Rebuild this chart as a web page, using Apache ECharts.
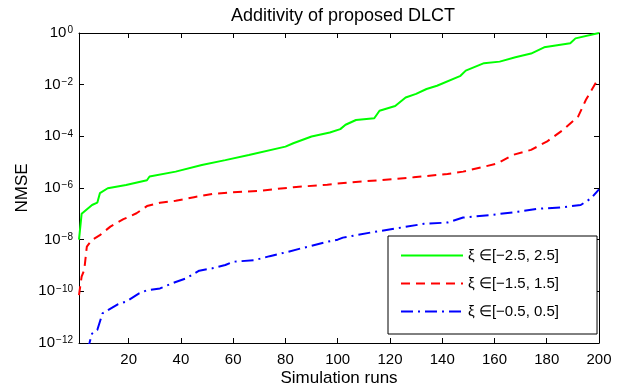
<!DOCTYPE html>
<html>
<head>
<meta charset="utf-8">
<script src="https://cdn.jsdelivr.net/npm/echarts@6/dist/echarts.min.js"></script>
<style>
  html, body { margin: 0; padding: 0; background: #fff; }
  #chart { width: 624px; height: 388px; }
</style>
</head>
<body>
<div id="chart"></div>
<script>
// xi in [-2.5, 2.5]
const runsWide = [1, 2, 6, 8, 9, 12, 19, 27, 28, 38, 48, 57, 66, 80, 83, 90, 97, 101, 103, 107,
  114, 116, 122, 126, 130, 134, 138, 147, 149, 156, 162, 168, 174, 179, 189, 191, 200];
const nmseWide = [1.0e-8, 1.0e-7, 2.2e-7, 2.7e-7, 6.3e-7, 9.8e-7, 1.3e-6, 2.0e-6, 2.8e-6, 4.3e-6,
  7.8e-6, 1.2e-5, 1.9e-5, 4.0e-5, 5.4e-5, 9.8e-5, 1.4e-4, 1.9e-4, 2.8e-4, 4.3e-4,
  5.0e-4, 9.8e-4, 1.5e-3, 3.2e-3, 4.4e-3, 6.8e-3, 9.1e-3, 2.2e-2, 3.5e-2, 6.8e-2,
  7.8e-2, 0.115, 0.16, 0.28, 0.40, 0.62, 1.0];

// xi in [-1.5, 1.5]
const runsMid = [1, 2, 3, 4, 6, 9, 13, 18, 23, 27, 32, 38, 45, 52, 60, 70, 83, 96, 105, 116,
  129, 142, 148, 155, 161, 167, 174, 180, 186, 192, 195, 199, 200];
const nmseMid = [7.1e-11, 3.7e-10, 6.6e-10, 5.4e-9, 9.8e-9, 1.5e-8, 3.2e-8, 6.2e-8, 1.05e-7, 2.0e-7,
  2.7e-7, 3.2e-7, 4.4e-7, 5.9e-7, 6.8e-7, 7.8e-7, 1.07e-6, 1.35e-6, 1.66e-6, 2.0e-6,
  2.6e-6, 3.5e-6, 4.3e-6, 6.3e-6, 8.9e-6, 1.9e-5, 3.0e-5, 6.2e-5, 1.7e-4, 5.8e-4,
  2.6e-3, 1.3e-2, 1.8e-2];

// xi in [-0.5, 0.5]
const runsNarrow = [4, 5, 6, 8, 10, 11, 16, 19, 24, 27, 32, 38, 42, 47, 52, 57, 60, 68, 74, 80,
  86, 96, 100, 102, 114, 123, 133, 142, 148, 158, 169, 176, 186, 193, 197, 200];
const nmseNarrow = [5e-13, 1.0e-12, 2.3e-12, 3.2e-12, 1.4e-11, 1.6e-11, 3.2e-11, 4.0e-11, 8.3e-11, 1.1e-10,
  1.3e-10, 2.3e-10, 3.2e-10, 6.3e-10, 7.8e-10, 1.05e-9, 1.4e-9, 1.6e-9, 2.3e-9, 3.2e-9,
  4.6e-9, 8.3e-9, 1.0e-8, 1.2e-8, 2.0e-8, 2.8e-8, 4.1e-8, 4.6e-8, 7.2e-8, 8.9e-8,
  1.2e-7, 1.55e-7, 1.8e-7, 2.2e-7, 4.0e-7, 8.9e-7];

const seriesNames = ['ξ ∈[−2.5, 2.5]', 'ξ ∈[−1.5, 1.5]', 'ξ ∈[−0.5, 0.5]'];
const xTicks = [20, 40, 60, 80, 100, 120, 140, 160, 180, 200];

const font = '"Liberation Sans", Arial, Helvetica, sans-serif';

function pairs(xs, ys) {
  return xs.map((x, i) => [x, ys[i]]);
}

const chart = echarts.init(document.getElementById('chart'));

const boxAxisLine = { show: true, lineStyle: { color: '#000', width: 1 } };
const boxTick = { show: true, inside: true, length: 5, lineStyle: { color: '#000', width: 1 } };

const option = {
  animation: false,
  backgroundColor: '#fff',
  title: {
    text: 'Additivity of proposed DLCT',
    left: 343,
    top: 7,
    padding: 0,
    textAlign: 'center',
    textStyle: { fontFamily: font, fontSize: 18, fontWeight: 'normal', color: '#000' }
  },
  grid: { left: 79, right: 25, top: 33, bottom: 45, outerBoundsMode: 'none' },
  legend: {
    data: seriesNames,
    orient: 'vertical',
    left: 388,
    top: 236,
    itemWidth: 62,
    itemHeight: 14,
    itemGap: 13,
    padding: [12, 38, 15, 12],
    backgroundColor: '#fff',
    borderColor: '#000',
    borderWidth: 1,
    itemStyle: { opacity: 0 },
    textStyle: { fontFamily: font, fontSize: 15, color: '#000' }
  },
  xAxis: [
    {
      type: 'value',
      min: 1,
      max: 200,
      name: 'Simulation runs',
      nameLocation: 'middle',
      nameGap: 27,
      nameMoveOverlap: false,
      nameTextStyle: { fontFamily: font, fontSize: 17, color: '#000' },
      axisLine: boxAxisLine,
      axisTick: Object.assign({ customValues: xTicks }, boxTick),
      axisLabel: { customValues: xTicks, margin: 9, fontFamily: font, fontSize: 15, color: '#000' },
      splitLine: { show: false }
    },
    {
      type: 'value',
      position: 'top',
      min: 1,
      max: 200,
      axisLine: boxAxisLine,
      axisTick: Object.assign({ customValues: xTicks }, boxTick),
      axisLabel: { show: false },
      splitLine: { show: false }
    }
  ],
  yAxis: [
    {
      type: 'log',
      logBase: 10,
      min: 1e-12,
      max: 1,
      interval: 2,
      name: 'NMSE',
      nameLocation: 'middle',
      nameGap: 48,
      nameMoveOverlap: false,
      nameTextStyle: { fontFamily: font, fontSize: 17, color: '#000' },
      axisLine: boxAxisLine,
      axisTick: boxTick,
      minorTick: { show: false },
      splitLine: { show: false },
      axisLabel: {
        margin: 6,
        formatter: function (v) {
          const e = Math.round(Math.log10(v));
          return '{b|10}{s|' + (e < 0 ? '−' + (-e) : e) + '}';
        },
        rich: {
          b: { fontFamily: font, fontSize: 15, color: '#000', verticalAlign: 'middle', lineHeight: 15 },
          s: { fontFamily: font, fontSize: 10, color: '#000', verticalAlign: 'top', lineHeight: 10, padding: [0, 0, 14, 1] }
        }
      }
    },
    {
      type: 'log',
      logBase: 10,
      position: 'right',
      min: 1e-12,
      max: 1,
      interval: 2,
      axisLine: boxAxisLine,
      axisTick: boxTick,
      axisLabel: { show: false },
      splitLine: { show: false }
    }
  ],
  series: [
    {
      name: seriesNames[0],
      type: 'line',
      symbol: 'none',
      clip: true,
      data: pairs(runsWide, nmseWide),
      itemStyle: { color: '#00ff00' },
      lineStyle: { color: '#00ff00', width: 2, type: 'solid' }
    },
    {
      name: seriesNames[1],
      type: 'line',
      symbol: 'none',
      clip: true,
      data: pairs(runsMid, nmseMid),
      itemStyle: { color: '#ff0000' },
      lineStyle: { color: '#ff0000', width: 2, type: [9, 6] }
    },
    {
      name: seriesNames[2],
      type: 'line',
      symbol: 'none',
      clip: true,
      data: pairs(runsNarrow, nmseNarrow),
      itemStyle: { color: '#0000ff' },
      lineStyle: { color: '#0000ff', width: 2, type: [12, 5, 2, 5] }
    }
  ]
};

chart.setOption(option);
window.onresize = () => {
  chart.resize();
};
</script>
</body>
</html>
